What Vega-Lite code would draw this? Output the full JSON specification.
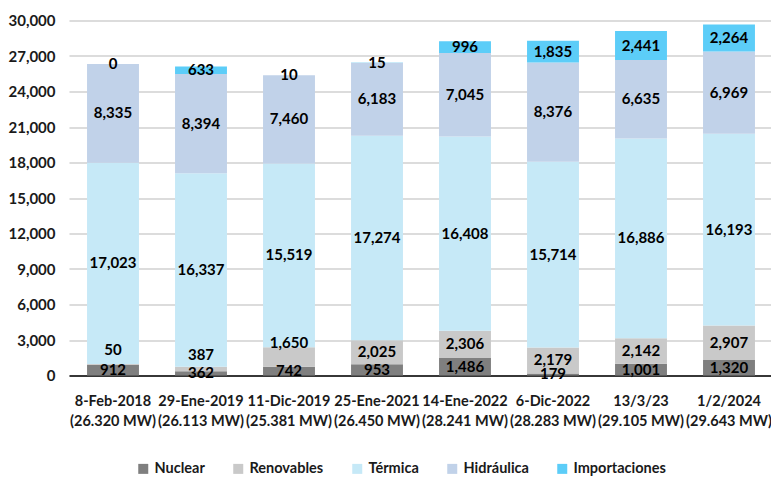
{
  "$schema": "https://vega.github.io/schema/vega-lite/v6.json",
  "width": 704,
  "height": 355,
  "autosize": {"type": "none"},
  "padding": {"left": 69, "top": 20.5, "right": 0, "bottom": 101.5},
  "background": "white",
  "config": {
    "font": "Lato",
    "view": {"stroke": null}
  },
  "data": {
    "values": [
      {"fecha": "8-Feb-2018|(26.320 MW)", "fuente": "Nuclear", "mw": 912},
      {"fecha": "8-Feb-2018|(26.320 MW)", "fuente": "Renovables", "mw": 50},
      {"fecha": "8-Feb-2018|(26.320 MW)", "fuente": "Térmica", "mw": 17023},
      {"fecha": "8-Feb-2018|(26.320 MW)", "fuente": "Hidráulica", "mw": 8335},
      {"fecha": "8-Feb-2018|(26.320 MW)", "fuente": "Importaciones", "mw": 0},
      {"fecha": "29-Ene-2019|(26.113 MW)", "fuente": "Nuclear", "mw": 362},
      {"fecha": "29-Ene-2019|(26.113 MW)", "fuente": "Renovables", "mw": 387},
      {"fecha": "29-Ene-2019|(26.113 MW)", "fuente": "Térmica", "mw": 16337},
      {"fecha": "29-Ene-2019|(26.113 MW)", "fuente": "Hidráulica", "mw": 8394},
      {"fecha": "29-Ene-2019|(26.113 MW)", "fuente": "Importaciones", "mw": 633},
      {"fecha": "11-Dic-2019|(25.381 MW)", "fuente": "Nuclear", "mw": 742},
      {"fecha": "11-Dic-2019|(25.381 MW)", "fuente": "Renovables", "mw": 1650},
      {"fecha": "11-Dic-2019|(25.381 MW)", "fuente": "Térmica", "mw": 15519},
      {"fecha": "11-Dic-2019|(25.381 MW)", "fuente": "Hidráulica", "mw": 7460},
      {"fecha": "11-Dic-2019|(25.381 MW)", "fuente": "Importaciones", "mw": 10},
      {"fecha": "25-Ene-2021|(26.450 MW)", "fuente": "Nuclear", "mw": 953},
      {"fecha": "25-Ene-2021|(26.450 MW)", "fuente": "Renovables", "mw": 2025},
      {"fecha": "25-Ene-2021|(26.450 MW)", "fuente": "Térmica", "mw": 17274},
      {"fecha": "25-Ene-2021|(26.450 MW)", "fuente": "Hidráulica", "mw": 6183},
      {"fecha": "25-Ene-2021|(26.450 MW)", "fuente": "Importaciones", "mw": 15},
      {"fecha": "14-Ene-2022|(28.241 MW)", "fuente": "Nuclear", "mw": 1486},
      {"fecha": "14-Ene-2022|(28.241 MW)", "fuente": "Renovables", "mw": 2306},
      {"fecha": "14-Ene-2022|(28.241 MW)", "fuente": "Térmica", "mw": 16408},
      {"fecha": "14-Ene-2022|(28.241 MW)", "fuente": "Hidráulica", "mw": 7045},
      {"fecha": "14-Ene-2022|(28.241 MW)", "fuente": "Importaciones", "mw": 996},
      {"fecha": "6-Dic-2022|(28.283 MW)", "fuente": "Nuclear", "mw": 179},
      {"fecha": "6-Dic-2022|(28.283 MW)", "fuente": "Renovables", "mw": 2179},
      {"fecha": "6-Dic-2022|(28.283 MW)", "fuente": "Térmica", "mw": 15714},
      {"fecha": "6-Dic-2022|(28.283 MW)", "fuente": "Hidráulica", "mw": 8376},
      {"fecha": "6-Dic-2022|(28.283 MW)", "fuente": "Importaciones", "mw": 1835},
      {"fecha": "13/3/23|(29.105 MW)", "fuente": "Nuclear", "mw": 1001},
      {"fecha": "13/3/23|(29.105 MW)", "fuente": "Renovables", "mw": 2142},
      {"fecha": "13/3/23|(29.105 MW)", "fuente": "Térmica", "mw": 16886},
      {"fecha": "13/3/23|(29.105 MW)", "fuente": "Hidráulica", "mw": 6635},
      {"fecha": "13/3/23|(29.105 MW)", "fuente": "Importaciones", "mw": 2441},
      {"fecha": "1/2/2024|(29.643 MW)", "fuente": "Nuclear", "mw": 1320},
      {"fecha": "1/2/2024|(29.643 MW)", "fuente": "Renovables", "mw": 2907},
      {"fecha": "1/2/2024|(29.643 MW)", "fuente": "Térmica", "mw": 16193},
      {"fecha": "1/2/2024|(29.643 MW)", "fuente": "Hidráulica", "mw": 6969},
      {"fecha": "1/2/2024|(29.643 MW)", "fuente": "Importaciones", "mw": 2264}
    ]
  },
  "transform": [
    {"calculate": "indexof(['Nuclear','Renovables','Térmica','Hidráulica','Importaciones'], datum.fuente)", "as": "idx"},
    {"stack": "mw", "groupby": ["fecha"], "sort": [{"field": "idx", "order": "ascending"}], "as": ["y0", "y1"]},
    {"calculate": "(datum.y0 + datum.y1) / 2", "as": "ymid"}
  ],
  "encoding": {
    "x": {
      "field": "fecha",
      "type": "nominal",
      "sort": null,
      "scale": {"paddingInner": 0.41, "paddingOuter": 0.205},
      "axis": {
        "title": null,
        "labelAngle": 0,
        "labelExpr": "split(datum.label, '|')",
        "labelFont": "Lato",
        "labelFontWeight": "bold",
        "labelFontSize": 14.5,
        "labelColor": "#1a1a1a",
        "labelPadding": 19,
        "labelLineHeight": 20,
        "ticks": false,
        "domainColor": "#000000",
        "domainWidth": 1.5,
        "labelLimit": 200
      }
    }
  },
  "layer": [
    {
      "mark": {"type": "bar"},
      "encoding": {
        "y": {
          "field": "y1",
          "type": "quantitative",
          "scale": {"domain": [0, 30000]},
          "axis": {
            "title": null,
            "values": [0, 3000, 6000, 9000, 12000, 15000, 18000, 21000, 24000, 27000, 30000],
            "format": ",.0f",
            "domain": false,
            "ticks": false,
            "gridColor": "#d0d0d0",
            "gridWidth": 1.5,
            "labelFont": "Lato",
            "labelFontWeight": "bold",
            "labelFontSize": 15,
            "labelColor": "#1a1a1a",
            "labelPadding": 14
          }
        },
        "y2": {"field": "y0"},
        "color": {
          "field": "fuente",
          "type": "nominal",
          "sort": ["Nuclear", "Renovables", "Térmica", "Hidráulica", "Importaciones"],
          "scale": {
            "domain": ["Nuclear", "Renovables", "Térmica", "Hidráulica", "Importaciones"],
            "range": ["#7f7f7f", "#c9c9c9", "#c6e9f7", "#c1d2e9", "#5ccdf8"]
          },
          "legend": {
            "title": null,
            "orient": "none",
            "legendX": 67,
            "legendY": 441,
            "direction": "horizontal",
            "symbolType": "square",
            "symbolSize": 100,
            "symbolStrokeWidth": 0,
            "labelFont": "Lato",
            "labelFontWeight": "bold",
            "labelFontSize": 14.5,
            "labelColor": "#1a1a1a",
            "columnPadding": 26
          }
        }
      }
    },
    {
      "transform": [{"filter": "!(datum.fuente === 'Renovables' && datum.mw < 2000)"}],
      "mark": {"type": "text", "fontWeight": "bold", "fontSize": 15, "color": "#000000", "font": "Lato"},
      "encoding": {
        "y": {
          "field": "ymid",
          "type": "quantitative",
          "axis": {
            "title": null,
            "values": [0, 3000, 6000, 9000, 12000, 15000, 18000, 21000, 24000, 27000, 30000],
            "format": ",.0f",
            "domain": false,
            "ticks": false,
            "gridColor": "#d0d0d0",
            "gridWidth": 1.5,
            "labelFont": "Lato",
            "labelFontWeight": "bold",
            "labelFontSize": 15,
            "labelColor": "#1a1a1a",
            "labelPadding": 14
          }
        },
        "text": {"field": "mw", "type": "quantitative", "format": ",.0f"}
      }
    },
    {
      "transform": [{"filter": "datum.fuente === 'Renovables' && datum.mw < 2000"}],
      "mark": {"type": "text", "fontWeight": "bold", "fontSize": 15, "color": "#000000", "font": "Lato", "dy": -14},
      "encoding": {
        "y": {
          "field": "ymid",
          "type": "quantitative",
          "axis": {
            "title": null,
            "values": [0, 3000, 6000, 9000, 12000, 15000, 18000, 21000, 24000, 27000, 30000],
            "format": ",.0f",
            "domain": false,
            "ticks": false,
            "gridColor": "#d0d0d0",
            "gridWidth": 1.5,
            "labelFont": "Lato",
            "labelFontWeight": "bold",
            "labelFontSize": 15,
            "labelColor": "#1a1a1a",
            "labelPadding": 14
          }
        },
        "text": {"field": "mw", "type": "quantitative", "format": ",.0f"}
      }
    }
  ]
}
